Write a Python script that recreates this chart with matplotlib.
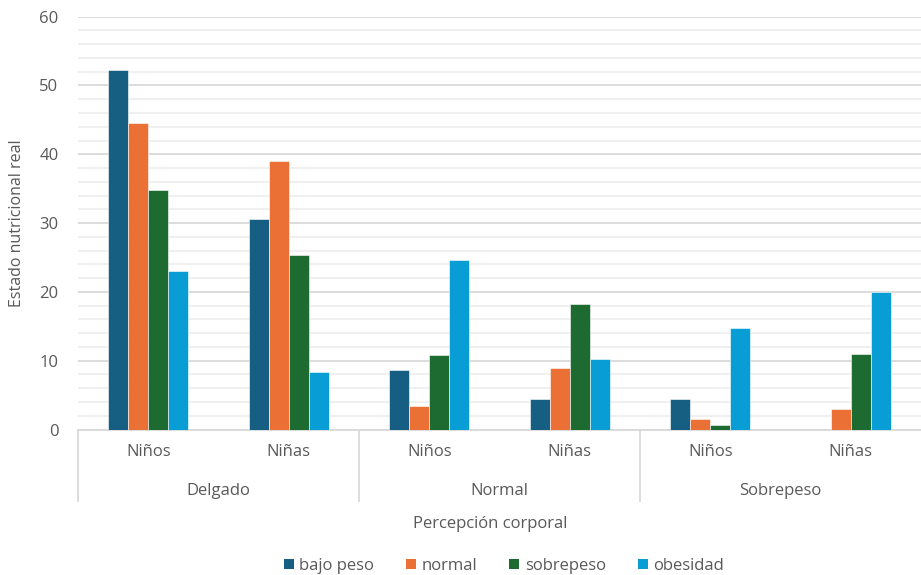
import matplotlib.pyplot as plt
from matplotlib.patches import Patch
from matplotlib.transforms import blended_transform_factory
import numpy as np

plt.rcParams['font.family'] = ['Open Sans', 'DejaVu Sans']

grupos = ['Delgado', 'Normal', 'Sobrepeso']
sexos = ['Niños', 'Niñas']
series = ['bajo peso', 'normal', 'sobrepeso', 'obesidad']

# orden: Delgado Niños, Delgado Niñas, Normal Niños, Normal Niñas, Sobrepeso Niños, Sobrepeso Niñas
bajo_peso = [52.2, 30.6, 8.6, 4.5, 4.5, 0.0]
normal = [44.6, 39.0, 3.4, 9.0, 1.5, 3.0]
sobrepeso = [34.8, 25.3, 10.9, 18.2, 0.7, 11.0]
obesidad = [23.0, 8.3, 24.6, 10.2, 14.7, 20.0]

colores = ['#175f82', '#eb7035', '#1d6b30', '#099dd6']
gris = '#595959'
fs = 12

fig = plt.figure(figsize=(9.21, 5.75), dpi=100)
ax = fig.add_axes([78 / 921, 1 - 429.5 / 575, 1 - 78 / 921, (429.5 - 16.7) / 575])

x = np.arange(len(bajo_peso))
ancho = 0.142
valores = [bajo_peso, normal, sobrepeso, obesidad]
for i, (vals, col) in enumerate(zip(valores, colores)):
    ax.bar(x + (i - 1.5) * ancho, vals, width=ancho, color=col,
           edgecolor='white', linewidth=0.4, zorder=3, label=series[i])

ax.set_xlim(-0.5, 5.5)
ax.set_ylim(0, 60)
ax.set_yticks(range(0, 61, 10))
ax.set_yticks([v for v in range(2, 60, 2) if v % 10 != 0], minor=True)
ax.grid(axis='y', which='major', color='#d9d9d9', linewidth=1.3, zorder=0)
ax.grid(axis='y', which='minor', color='#f0f0f0', linewidth=1.5, zorder=0)
ax.tick_params(axis='y', which='both', length=0, labelsize=fs, labelcolor=gris, pad=14)
ax.set_xticks([])
for s in ['top', 'right', 'left']:
    ax.spines[s].set_visible(False)
ax.spines['bottom'].set_color('#d9d9d9')
ax.spines['bottom'].set_linewidth(1.3)

ax.set_ylabel('Estado nutricional real', fontsize=fs - 0.5, color=gris, labelpad=10)

trans = blended_transform_factory(ax.transData, ax.transAxes)
# etiquetas de sexo y grupo
for k in range(len(x)):
    ax.text(x[k], -0.055, sexos[k % 2], transform=trans, ha='center', va='center',
            fontsize=fs, color=gris)
for g, nombre in enumerate(grupos):
    ax.text(2 * g + 0.5, -0.148, nombre, transform=trans, ha='center', va='center',
            fontsize=fs, color=gris)
# separadores de grupo
for pos in [-0.5, 1.5, 3.5]:
    ax.plot([pos, pos], [0, -0.172], transform=trans, color='#d9d9d9',
            linewidth=1.3, clip_on=False)

fig.text((78 + 921) / 2 / 921 - 0.01, 1 - 524 / 575, 'Percepción corporal', ha='center',
         va='center', fontsize=fs, color=gris)

handles = [Patch(facecolor=c, label=s) for c, s in zip(colores, series)]
leg = fig.legend(handles=handles, loc='center', bbox_to_anchor=(504 / 921, 1 - 566 / 575),
                 ncol=4, frameon=False, fontsize=fs, handlelength=0.6, handleheight=0.6,
                 handletextpad=0.35, columnspacing=1.9)
for t in leg.get_texts():
    t.set_color(gris)

fig.savefig('out.png', dpi=100)
